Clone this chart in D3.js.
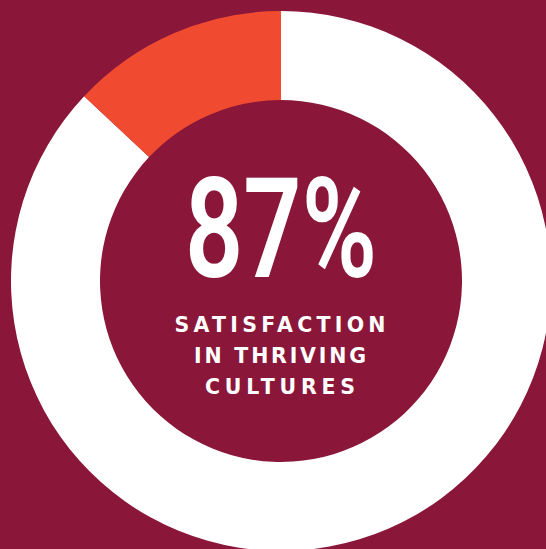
<!DOCTYPE html>
<html>
<head>
<meta charset="utf-8">
<script src="https://cdn.jsdelivr.net/npm/d3@7"></script>
<style>
  html, body { margin: 0; padding: 0; background: #8a173a; }
  svg { display: block; }
</style>
</head>
<body>
<svg id="chart" width="546" height="549"></svg>
<script>
// Share of respondents reporting satisfaction
const categories = ["Satisfied", "Not satisfied"];
const values = [87, 13];
const colors = ["#ffffff", "#f04b30"];
const headline = "87%";
const captionLines = ["SATISFACTION", "IN THRIVING", "CULTURES"];

const width = 546, height = 549;
const cx = 281, cy = 281;
const outerR = 270, innerR = 181;

const svg = d3.select("#chart");
svg.append("rect").attr("width", width).attr("height", height).attr("fill", "#8a173a");

const pie = d3.pie().sort(null).value(d => d.value);
const arc = d3.arc().innerRadius(innerR).outerRadius(outerR);

const data = categories.map((c, i) => ({ category: c, value: values[i] }));

const g = svg.append("g").attr("transform", `translate(${cx},${cy})`);
g.selectAll("path")
  .data(pie(data))
  .join("path")
  .attr("d", arc)
  .attr("fill", (d, i) => colors[i]);

// Big percentage in a condensed style
g.append("text")
  .attr("x", 0)
  .attr("y", -4)
  .attr("text-anchor", "middle")
  .attr("fill", "#ffffff")
  .attr("font-family", "Roboto, 'DejaVu Sans', sans-serif")
  .attr("font-weight", 600)
  .attr("font-size", 139)
  .attr("textLength", 192)
  .attr("lengthAdjust", "spacingAndGlyphs")
  .text(headline);

// Caption under the percentage
const capWidths = [211, 172, 150];
captionLines.forEach((line, i) => {
  g.append("text")
    .attr("x", -1)
    .attr("y", 51 + i * 31)
    .attr("text-anchor", "middle")
    .attr("fill", "#ffffff")
    .attr("font-family", "'DejaVu Sans', sans-serif")
    .attr("font-weight", 700)
    .attr("font-size", 20.5)
    .attr("textLength", capWidths[i])
    .attr("lengthAdjust", "spacing")
    .text(line);
});
</script>
</body>
</html>
